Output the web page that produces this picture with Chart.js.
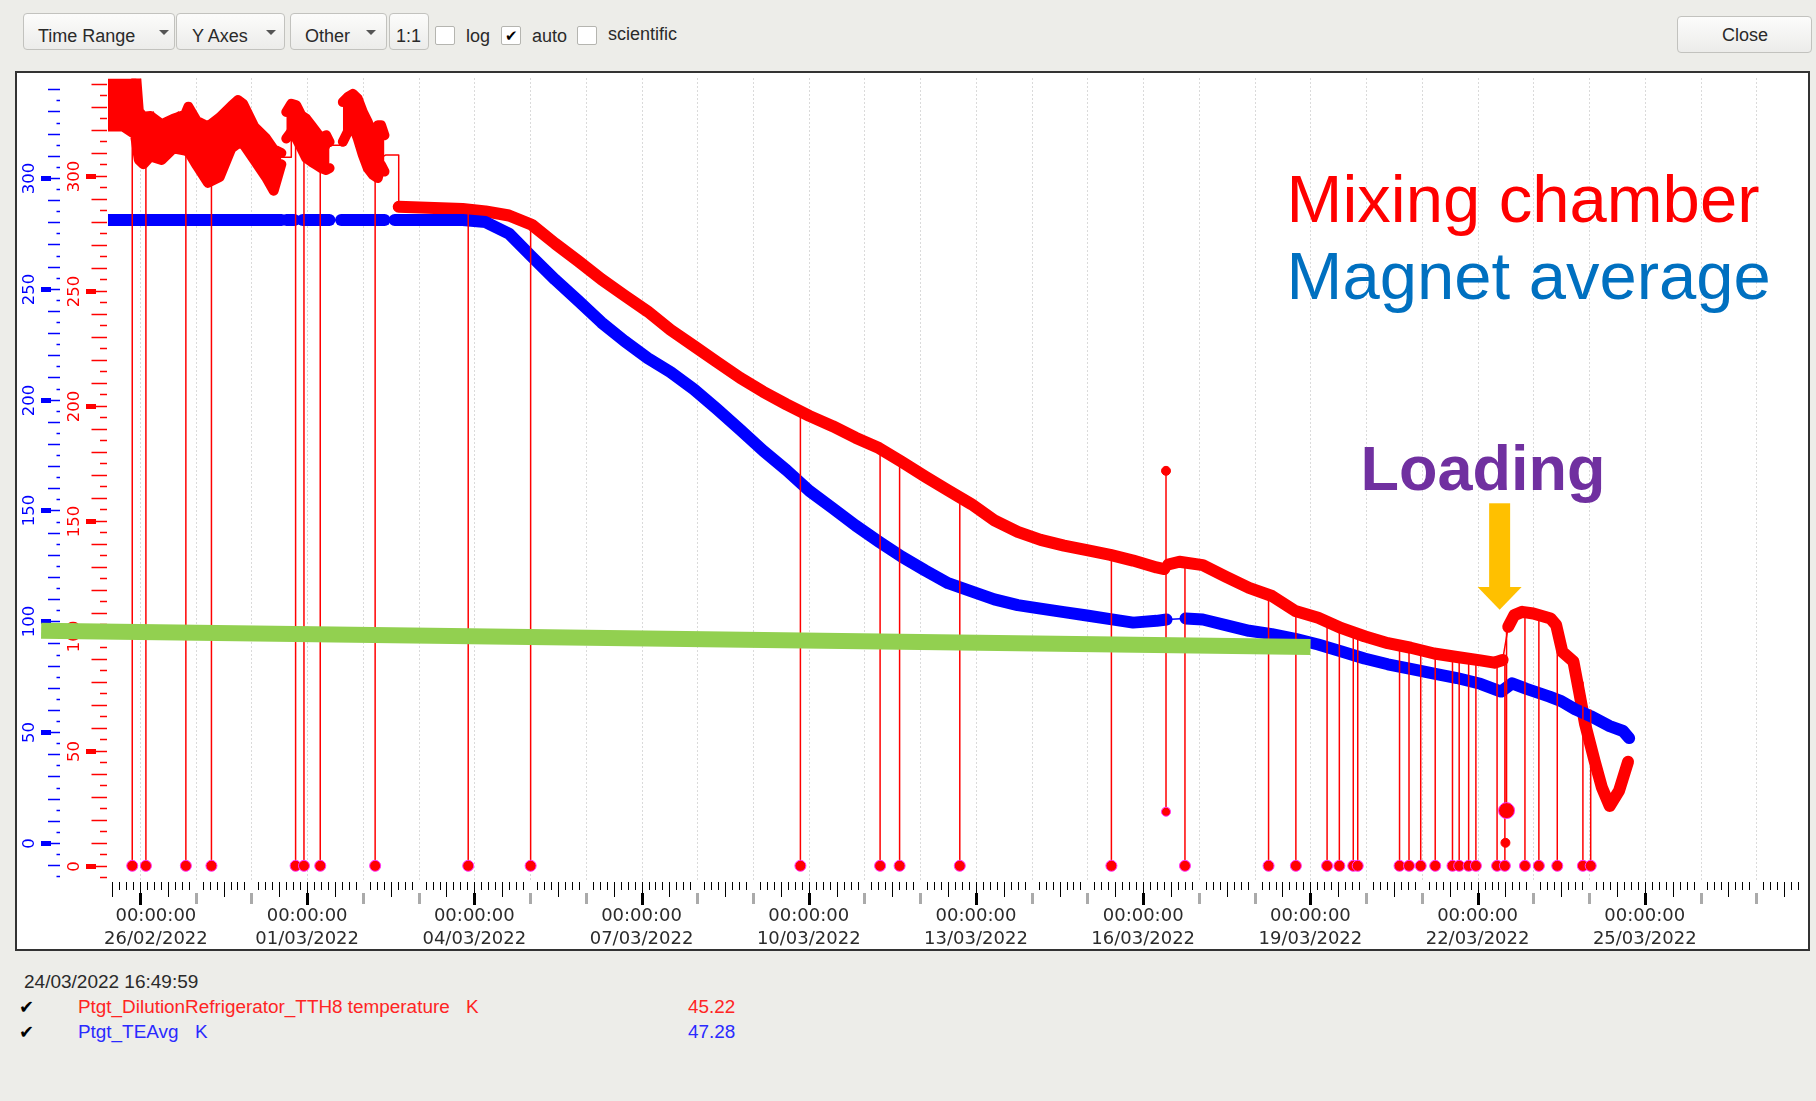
<!DOCTYPE html>
<html>
<head>
<meta charset="utf-8">
<script src="https://cdn.jsdelivr.net/npm/chart.js"></script>
<style>
  html, body { margin: 0; padding: 0; }
  body {
    width: 1816px; height: 1101px; position: relative; overflow: hidden;
    background: #edede9; font-family: "Liberation Sans", Arial, sans-serif; color: #2a2a2a;
  }
  .btn {
    position: absolute; top: 13px; height: 37px; box-sizing: border-box;
    border: 1px solid #c2c2be; border-radius: 4px;
    background: linear-gradient(#fcfcfb, #ececea); font-size: 18px;
  }
  .btn span { position: absolute; top: 12px; }
  .arrow {
    position: absolute; top: 16px; width: 0; height: 0;
    border-left: 5px solid transparent; border-right: 5px solid transparent; border-top: 5px solid #555;
  }
  .box {
    position: absolute; top: 26px; width: 20px; height: 19px; box-sizing: border-box;
    background: #fff; border: 1px solid #b5b5b0; border-radius: 2px;
    font-size: 15px; line-height: 17px; text-align: center; color: #000;
  }
  .lbl { position: absolute; top: 26px; font-size: 18px; }
  #frame {
    position: absolute; left: 15px; top: 71px; width: 1795px; height: 880px;
    box-sizing: border-box; border: 2px solid #333; background: #fff;
  }
  #chart { position: absolute; left: 0; top: 0; }
  .leg { position: absolute; font-size: 18.9px; line-height: 20px; white-space: nowrap; }
  .chk { position: absolute; font-size: 18px; line-height: 20px; color: #000; font-family: "DejaVu Sans"; }
</style>
</head>
<body>

<div class="btn" style="left:23px;width:152px"><span style="left:14px">Time Range</span><div class="arrow" style="left:135px"></div></div>
<div class="btn" style="left:176px;width:109px"><span style="left:15px">Y Axes</span><div class="arrow" style="left:89px"></div></div>
<div class="btn" style="left:290px;width:97px"><span style="left:14px">Other</span><div class="arrow" style="left:75px"></div></div>
<div class="btn" style="left:389px;width:40px"><span style="left:6px">1:1</span></div>
<div class="box" style="left:435px"></div>
<div class="lbl" style="left:466px">log</div>
<div class="box" style="left:501px">&#10004;</div>
<div class="lbl" style="left:532px">auto</div>
<div class="box" style="left:577px"></div>
<div class="lbl" style="left:608px;top:24px">scientific</div>
<div class="btn" style="left:1677px;width:135px;top:16px"><span style="left:44px;top:8px">Close</span></div>

<div id="frame"><canvas id="chart" width="1791" height="876"></canvas></div>

<div class="leg" style="left:24px;top:972px;font-size:19px">24/03/2022 16:49:59</div>
<div class="chk" style="left:19px;top:997px">&#10004;</div>
<div class="leg" style="left:78px;top:997px;color:#ff2424">Ptgt_DilutionRefrigerator_TTH8 temperature</div>
<div class="leg" style="left:466px;top:997px;color:#ff2424">K</div>
<div class="leg" style="left:688px;top:997px;color:#ff2424">45.22</div>
<div class="chk" style="left:19px;top:1022px">&#10004;</div>
<div class="leg" style="left:78px;top:1022px;color:#2a2aff">Ptgt_TEAvg</div>
<div class="leg" style="left:195px;top:1022px;color:#2a2aff">K</div>
<div class="leg" style="left:688px;top:1022px;color:#2a2aff">47.28</div>

<script>
// x values are days since 26/02/2022 00:00
const labelDays = [0, 3, 6, 9, 12, 15, 18, 21, 24, 27];
const dateLabels = ["26/02/2022", "01/03/2022", "04/03/2022", "07/03/2022", "10/03/2022",
  "13/03/2022", "16/03/2022", "19/03/2022", "22/03/2022", "25/03/2022"];

// mixing chamber (TTH8), K
const redDays = [
  -0.60, -0.45, -0.30, -0.21, -0.12, -0.06, 0.00, 0.06, 0.12, 0.18, 0.24, 0.30, 0.39, 0.51, 0.60,
  0.69, 0.77, 0.82, 0.88, 0.93, 1.00, 1.11, 1.19, 1.25, 1.34, 1.43, 1.50, 1.56, 1.64, 1.76, 1.85,
  1.94, 2.06, 2.15, 2.24, 2.33, 2.40, 2.47, 2.52, 2.555, 2.716, 2.716, 2.775, 2.834, 2.924, 3.013,
  3.074, 3.164, 3.253, 3.312, 3.371, 3.415, 3.688, 3.72, 3.79, 3.867, 3.927, 3.998, 4.07, 4.149,
  4.208, 4.267, 4.328, 4.356, 4.405, 4.643, 4.643, 5.79, 6.20, 6.62, 7.03, 7.45, 7.86, 8.28, 8.69,
  9.11, 9.52, 9.94, 10.35, 10.77, 11.18, 11.60, 12.01, 12.43, 12.84, 13.26, 13.67, 14.09, 14.50,
  14.92, 15.33, 15.75, 16.16, 16.58, 16.99, 17.41, 17.82, 18.24, 18.38, 18.45, 18.65, 19.07, 19.48,
  19.90, 20.31, 20.73, 21.14, 21.56, 21.97, 22.39, 22.80, 23.22, 23.63, 24.05, 24.30, 24.45, 24.55,
  24.66, 24.80, 25.00, 25.31, 25.41, 25.52, 25.72, 25.82, 25.93, 26.10, 26.23, 26.37, 26.54, 26.70
];
const redTemps = [
  340.0, 341.4, 337.1, 331.3, 324.1, 316.9, 322.7, 311.2, 307.6, 324.1, 327.7, 319.8, 311.2, 316.9, 325.6,
  327.7, 318.4, 311.2, 328.5, 329.9, 322.7, 316.9, 306.9, 298.2, 302.5, 309.8, 299.7, 311.2, 322.7, 331.3, 331.3,
  324.1, 319.8, 314.1, 302.5, 296.0, 295.3, 304.0, 309.0, 308.0, 308.0, 324.1, 328.5, 327.0, 319.8, 322.7,
  314.1, 316.9, 308.3, 305.4, 311.2, 313.3, 313.3, 326.3, 331.3, 332.8, 325.6, 319.8, 311.2, 305.4,
  302.5, 316.9, 318.4, 308.3, 309.0, 309.0, 286.5, 285.5, 284.5, 282.7, 278.7, 270.5, 263.0, 255.0, 248.0,
  241.0, 233.0, 226.0, 219.1, 212.1, 206.1, 200.6, 195.6, 191.1, 186.1, 181.6, 175.6, 169.2, 163.2,
  157.2, 150.2, 145.2, 141.7, 139.2, 137.2, 135.2, 132.7, 129.7, 129.0, 131.0, 132.2, 130.7, 125.7,
  120.8, 117.3, 110.8, 107.8, 103.3, 99.8, 96.8, 94.8, 92.3, 90.8, 89.3, 88.3, 89.5, 103.9,
  109.0, 110.4, 109.7, 107.5, 104.7, 93.1, 88.8, 75.9, 61.5, 45.6, 34.1, 26.0, 32.7, 45.2
];
// thin joining line: the noisy start (shown as a band below) and stretches with no readings
const redGaps = [[-1, 4.643], [18.38, 18.45], [24.45, 24.55]];

// noisy warm period of the mixing chamber: upper and lower edge of the scatter, K
const bandDays = [
  -0.597, -0.30, -0.09, -0.02, 0.06, 0.19, 0.39, 0.60, 0.81, 0.87, 1.02, 1.22, 1.43, 1.64,
  1.76, 1.85, 2.05, 2.26, 2.40, 2.537, 2.537,
  2.626, 2.716, 2.805, 2.895, 2.984, 3.074, 3.163, 3.253, 3.342, 3.402, 3.402,
  3.641, 3.730, 3.820, 3.909, 3.999, 4.088, 4.178, 4.267, 4.327, 4.387
];
const bandTops = [
  350, 350, 350, 328.0, 325.7, 326.0, 322.4, 324.8, 326.5, 330.0, 323.8, 321.4, 325.3, 330.3,
  332.9, 331.3, 321.4, 316.4, 311.5, 309.9, null,
  327.7, 331.3, 330.6, 326.3, 324.8, 321.9, 319.1, 316.2, 317.6, 314.7, null,
  332.0, 334.2, 335.6, 333.5, 327.7, 323.4, 317.6, 321.9, 321.9, 317.6
];
const bandBottoms = [
  321.4, 321.4, 318.0, 306.9, 305.0, 308.4, 306.9, 311.9, 310.9, 310.5, 304.4, 296.9, 299.4, 311.9,
  314.0, 313.9, 306.9, 299.4, 293.5, 305.0, null,
  316.2, 319.1, 316.2, 311.9, 307.6, 306.1, 304.7, 303.3, 302.5, 303.3, null,
  314.8, 319.1, 322.0, 316.2, 309.0, 303.3, 300.4, 299.0, 304.7, 301.8
];

// magnet average (TEAvg), K
const blueDays = [
  -0.60, 2.54, 2.63, 2.77, 2.92, 3.40, 3.61, 4.39, 4.57, 5.79, 6.20, 6.62, 7.03, 7.45, 7.86, 8.28,
  8.69, 9.11, 9.52, 9.94, 10.35, 10.77, 11.18, 11.60, 12.01, 12.43, 12.84, 13.26, 13.67, 14.09, 14.50,
  14.92, 15.33, 15.75, 16.16, 16.58, 16.99, 17.41, 17.82, 18.24, 18.42, 18.76, 19.07, 19.48, 19.90,
  20.31, 20.73, 21.14, 21.56, 21.97, 22.39, 22.80, 23.22, 23.63, 24.05, 24.42, 24.62, 24.88, 25.29,
  25.50, 25.75, 26.03, 26.37, 26.61, 26.72
];
const blueTemps = [
  281, 281, 281, 281, 281, 281, 281, 281, 281, 281, 280.1, 274.9, 264.5, 254.1, 244.7, 234.8,
  226.5, 218.7, 212.4, 204.6, 195.8, 186.4, 177.0, 168.2, 158.8, 151.0, 143.2, 135.9, 129.1, 122.9, 117.2,
  113.5, 109.9, 107.3, 105.7, 104.1, 102.6, 101.0, 99.4, 100.2, 100.8, 101.3, 100.8, 98.3, 95.7,
  94.2, 92.1, 89.5, 86.4, 83.2, 80.6, 78.5, 76.4, 74.4, 71.8, 68.3, 72.0, 69.5, 66.0,
  64.0, 60.3, 57.2, 52.7, 50.5, 47.3
];
const blueGaps = [[2.54, 2.63], [2.77, 2.92], [3.40, 3.61], [4.39, 4.57], [18.42, 18.76]];

// single bad readings of the mixing chamber sensor: line from the trace down to the reading
const spikeDays = [
  -0.138, 0.107, 0.824, 1.283, 2.793, 2.943, 3.235, 4.22, 5.89, 7.01, 11.85, 13.28, 13.63, 14.71,
  17.43, 18.41, 18.75, 20.25, 20.74, 21.30, 21.52, 21.77, 21.85, 22.60, 22.77, 22.98, 23.24, 23.55,
  23.67, 23.84, 23.97, 24.35, 24.49, 24.52, 24.85, 25.10, 25.43, 25.89, 26.03
];
const spikeTops = [
  322, 310, 311, 300, 328, 320, 310, 304, 285, 279, 197, 181, 176, 160,
  135, 171.7, 132, 118, 111, 106, 103, 101, 100, 95.5, 95, 94, 92.3, 91,
  90.8, 90, 89.5, 88.5, 89, 104, 110, 109.5, 104, 80, 68
];
const spikeEnds = [
  0, 0, 0, 0, 0, 0, 0, 0, 0, 0, 0, 0, 0, 0,
  0, 23.5, 0, 0, 0, 0, 0, 0, 0, 0, 0, 0, 0, 0,
  0, 0, 0, 0, 0, 24, 0, 0, 0, 0, 0
];
const dotDays = [18.41, 24.50];
const dotTemps = [171.7, 10];

// axis ranges (red = TTH8 axis, blue = TEAvg axis)
const dayMin = -0.573, dayMax = 29.83;
const redMin = -6.17, redMax = 342.27;
const blueMin = -16.71, blueMax = 344.85;

const RED = "#ff0000";
const BLUE = "#0000ff";

function gapWidth(gaps) {
  return (c) => gaps.some(([g0, g1]) =>
    c.p0.parsed.x >= g0 - 1e-6 && c.p1.parsed.x <= g1 + 1e-6) ? 1.5 : 12;
}

const axesPlugin = {
  id: "axes",
  beforeDatasetsDraw(chart) {
    const { ctx, chartArea: a, scales: { x } } = chart;
    // daily dotted grid
    ctx.save();
    ctx.strokeStyle = "#b4b4b4";
    ctx.lineWidth = 1;
    ctx.setLineDash([1, 3]);
    for (let d = Math.ceil(x.min); d <= x.max; d++) {
      const px = Math.round(x.getPixelForValue(d)) + 0.5;
      ctx.beginPath();
      ctx.moveTo(px, a.top);
      ctx.lineTo(px, a.bottom);
      ctx.stroke();
    }
    ctx.restore();
  },
  afterDraw(chart) {
    const { ctx, chartArea: a, scales: { x, yRed, yBlue } } = chart;
    const b = a.bottom;
    ctx.save();

    // time axis: tick every 3 h, longer at noon, day marks, labels every 3 days
    for (let k = Math.ceil(x.min * 8); k <= Math.floor(x.max * 8); k++) {
      const px = Math.round(x.getPixelForValue(k / 8));
      if (k % 8 === 0) {
        if ((k / 8) % 3 === 0) {
          ctx.fillStyle = "#000";
          ctx.fillRect(px, b + 2, 1, 12);
          ctx.fillRect(px - 1, b + 13, 3, 12);
        } else {
          ctx.fillStyle = "#aaaaaa";
          ctx.fillRect(px - 1, b + 13, 3, 11);
        }
      } else if (k % 4 === 0) {
        ctx.fillStyle = "#000";
        ctx.fillRect(px, b + 2, 1, 15);
      } else {
        ctx.fillStyle = "#000";
        ctx.fillRect(px, b + 2, 1, 8);
      }
    }
    ctx.font = '18px "DejaVu Sans"';
    ctx.fillStyle = "#2b2b2b";
    ctx.textAlign = "center";
    ctx.textBaseline = "middle";
    labelDays.forEach((d, i) => {
      const w = ctx.measureText(dateLabels[i]).width;
      const cx = Math.max(x.getPixelForValue(d), a.left - 4 + w / 2);
      ctx.fillText("00:00:00", cx, b + 36);
      ctx.fillText(dateLabels[i], cx, b + 59);
    });

    // the two temperature axes, drawn from their scales
    const drawAxis = (scale, color, blockL, blockR, tickR, longL, shortL, labelX) => {
      ctx.fillStyle = color;
      ctx.strokeStyle = color;
      ctx.lineWidth = 1.5;
      for (let v = Math.ceil(scale.min / 5) * 5; v <= scale.max; v += 5) {
        const py = Math.round(scale.getPixelForValue(v)) + 0.5;
        let from = shortL;
        if (v % 50 === 0) {
          ctx.fillRect(blockL, py - 2.5, blockR - blockL, 5);
          from = blockR;
          ctx.save();
          ctx.translate(labelX, py);
          ctx.rotate(-Math.PI / 2);
          ctx.font = '16.5px "DejaVu Sans"';
          ctx.textAlign = "center";
          ctx.textBaseline = "middle";
          ctx.fillText(String(v), 0, 0);
          ctx.restore();
        } else if (v % 10 === 0) {
          from = longL;
        }
        ctx.beginPath();
        ctx.moveTo(from, py);
        ctx.lineTo(tickR, py);
        ctx.stroke();
      }
    };
    drawAxis(yBlue, BLUE, 24, 34, 43, 31, 39.5, 13);
    drawAxis(yRed, RED, 69, 79, 90, 74.5, 83, 57.5);

    // annotations placed on the data scales
    ctx.lineCap = "butt";
    ctx.strokeStyle = "#92d050";
    ctx.lineWidth = 16;
    ctx.beginPath();
    ctx.moveTo(x.getPixelForValue(-1.773), yBlue.getPixelForValue(95.7));
    ctx.lineTo(x.getPixelForValue(21.003), yBlue.getPixelForValue(88.35));
    ctx.stroke();

    ctx.textAlign = "left";
    ctx.textBaseline = "alphabetic";
    ctx.font = '67px "Liberation Sans"';
    ctx.fillStyle = "#ff0000";
    ctx.fillText("Mixing chamber", x.getPixelForValue(20.573), yRed.getPixelForValue(280.0));
    ctx.fillStyle = "#0070c0";
    ctx.fillText("Magnet average", x.getPixelForValue(20.573), yRed.getPixelForValue(246.5));
    ctx.font = 'bold 63px "Liberation Sans"';
    ctx.fillStyle = "#7030a0";
    ctx.fillText("Loading", x.getPixelForValue(21.898), yRed.getPixelForValue(163.5));

    // arrow pointing at the loading
    const ax = x.getPixelForValue(24.396);
    const aTop = yRed.getPixelForValue(157.6);
    const aNeck = yRed.getPixelForValue(121.2);
    const aTip = yRed.getPixelForValue(111.3);
    ctx.fillStyle = "#ffc000";
    ctx.fillRect(ax - 10.5, aTop, 21, aNeck - aTop);
    ctx.beginPath();
    ctx.moveTo(ax - 22, aNeck);
    ctx.lineTo(ax + 22, aNeck);
    ctx.lineTo(ax, aTip);
    ctx.closePath();
    ctx.fill();

    ctx.restore();
  }
};

const toPoints = (xs, ys) => xs.map((d, i) => ({ x: d, y: ys[i] }));

new Chart(document.getElementById("chart"), {
  type: "line",
  data: {
    datasets: [
      {
        label: "dots",
        data: toPoints(dotDays, dotTemps),
        yAxisID: "yRed",
        showLine: false,
        pointRadius: 4.5,
        pointBackgroundColor: RED,
        pointBorderColor: RED,
        clip: 0,
      },
      {
        label: "spikes",
        data: spikeDays.flatMap((d, i) => [
          { x: d, y: spikeTops[i] }, { x: d, y: spikeEnds[i] }, { x: d, y: null }
        ]),
        yAxisID: "yRed",
        borderColor: RED,
        borderWidth: 1.5,
        pointRadius: (c) => {
          if (c.dataIndex % 3 !== 1) return 0;
          const i = (c.dataIndex - 1) / 3;
          if (spikeEnds[i] === 0) return 5.5;
          return spikeDays[i] > 24 ? 8 : 4.5;
        },
        pointStyle: "circle",
        pointBackgroundColor: RED,
        pointBorderColor: "#ff33ff",
        pointBorderWidth: 1,
        spanGaps: false,
        clip: 0,
      },
      {
        label: "Ptgt_TEAvg",
        data: toPoints(blueDays, blueTemps),
        yAxisID: "yBlue",
        borderColor: BLUE,
        borderWidth: 12,
        borderCapStyle: "round",
        borderJoinStyle: "round",
        pointRadius: 0,
        segment: { borderWidth: gapWidth(blueGaps) },
        clip: 0,
      },
      {
        label: "band top",
        data: toPoints(bandDays, bandTops),
        yAxisID: "yRed",
        borderColor: RED,
        backgroundColor: RED,
        borderWidth: 10,
        borderJoinStyle: "round",
        borderCapStyle: "round",
        pointRadius: 0,
        spanGaps: false,
        fill: "+1",
        clip: 0,
      },
      {
        label: "band bottom",
        data: toPoints(bandDays, bandBottoms),
        yAxisID: "yRed",
        borderColor: RED,
        borderWidth: 10,
        borderJoinStyle: "round",
        borderCapStyle: "round",
        pointRadius: 0,
        spanGaps: false,
        fill: false,
        clip: 0,
      },
      {
        label: "Ptgt_DilutionRefrigerator_TTH8 temperature",
        data: toPoints(redDays, redTemps),
        yAxisID: "yRed",
        borderColor: RED,
        borderWidth: 12,
        borderCapStyle: "round",
        borderJoinStyle: "round",
        pointRadius: 0,
        segment: { borderWidth: gapWidth(redGaps) },
        clip: 0,
      },
    ],
  },
  options: {
    responsive: false,
    animation: false,
    devicePixelRatio: 1,
    events: [],
    layout: { padding: { left: 91, right: 2, top: 0, bottom: 69 } },
    scales: {
      x: { type: "linear", min: dayMin, max: dayMax, display: false },
      yRed: { type: "linear", position: "left", min: redMin, max: redMax, display: false },
      yBlue: { type: "linear", position: "left", min: blueMin, max: blueMax, display: false },
    },
    plugins: { legend: { display: false }, tooltip: { enabled: false } },
  },
  plugins: [axesPlugin],
});
</script>
</body>
</html>
